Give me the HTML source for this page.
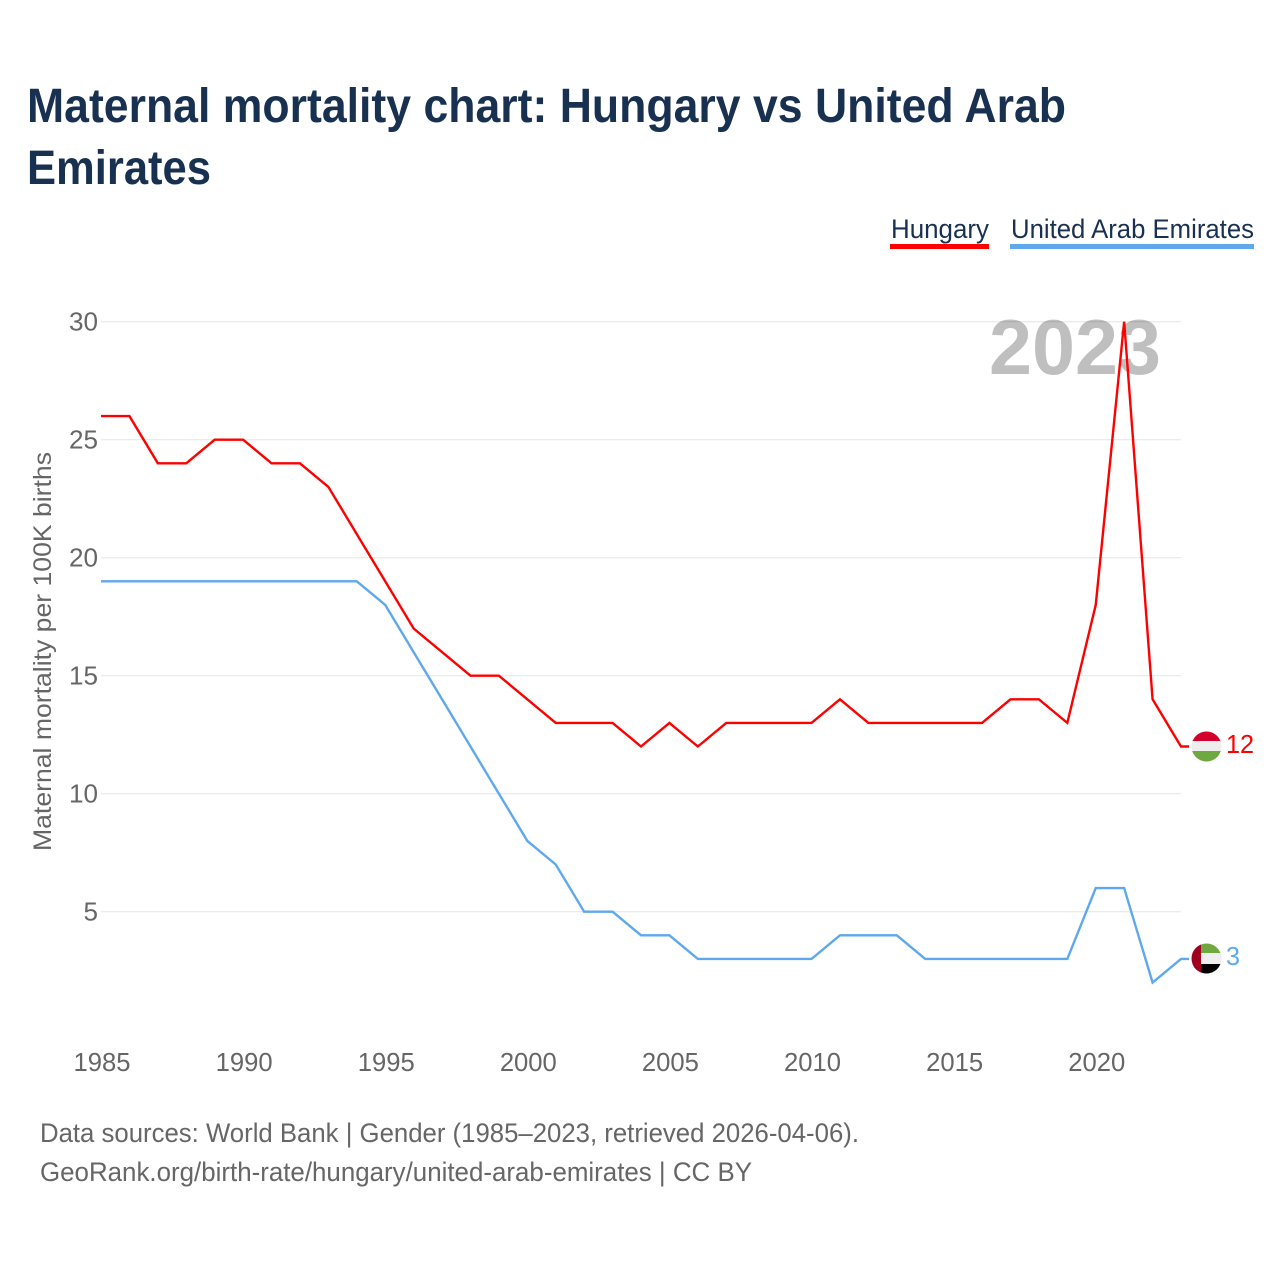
<!DOCTYPE html>
<html lang="en">
<head>
<meta charset="utf-8">
<title>Maternal mortality chart: Hungary vs United Arab Emirates</title>
<style>
html,body{margin:0;padding:0;background:#fff;width:1280px;height:1280px;overflow:hidden}
svg{display:block}
text{font-family:"Liberation Sans",sans-serif}
</style>
</head>
<body>
<svg id="chart" xmlns="http://www.w3.org/2000/svg" width="1280" height="1280" viewBox="0 0 1280 1280">
  <defs>
    <clipPath id="clip-hu"><circle cx="1206.5" cy="746.5" r="15"></circle></clipPath>
    <clipPath id="clip-ae"><circle cx="1206.5" cy="958.5" r="15"></circle></clipPath>
  </defs>
  <text x="27" y="122" font-size="48" font-weight="700" fill="#193150" textLength="1039" lengthAdjust="spacingAndGlyphs">Maternal mortality chart: Hungary vs United Arab</text>
  <text x="27" y="184" font-size="48" font-weight="700" fill="#193150" textLength="184" lengthAdjust="spacingAndGlyphs">Emirates</text>

  <g>
    <text x="891" y="238" font-size="27" fill="#193150" textLength="98" lengthAdjust="spacingAndGlyphs">Hungary</text>
    <rect x="890" y="244" width="99" height="5" fill="#ff0000"></rect>
  </g>
  <g>
    <text x="1011" y="238" font-size="27" fill="#193150" textLength="243" lengthAdjust="spacingAndGlyphs">United Arab Emirates</text>
    <rect x="1010" y="244" width="244" height="5" fill="#5fa8ee"></rect>
  </g>

  <g id="grid"></g>
  <text x="989" y="374" font-size="78" font-weight="700" fill="#000" fill-opacity="0.25" textLength="172" lengthAdjust="spacingAndGlyphs">2023</text>
  <g id="yticks"></g>
  <g id="xticks"></g>
  <text transform="translate(51,851) rotate(-90)" x="0" y="0" font-size="25" fill="#666" textLength="399" lengthAdjust="spacingAndGlyphs">Maternal mortality per 100K births</text>
  <g id="series"></g>

  <g clip-path="url(#clip-hu)">
    <rect x="1190" y="731" width="33" height="11" fill="#d2002a"></rect>
    <rect x="1190" y="741" width="33" height="11" fill="#eeeeee"></rect>
    <rect x="1190" y="751" width="33" height="11" fill="#6fa840"></rect>
  </g>
  <g clip-path="url(#clip-ae)">
    <rect x="1190" y="943" width="33" height="11" fill="#6fa840"></rect>
    <rect x="1190" y="953" width="33" height="11" fill="#eeeeee"></rect>
    <rect x="1190" y="964" width="33" height="11" fill="#000000"></rect>
    <rect x="1190" y="943" width="11" height="32" fill="#a0001f"></rect>
  </g>
  <text id="end-hu" x="1226" y="753" font-size="26" fill="#ff0000" textLength="28" lengthAdjust="spacingAndGlyphs"></text>
  <text id="end-ae" x="1226" y="965" font-size="26" fill="#5fa8ee" textLength="14" lengthAdjust="spacingAndGlyphs"></text>

  <text x="40" y="1142" font-size="27" fill="#666" textLength="819" lengthAdjust="spacingAndGlyphs">Data sources: World Bank | Gender (1985–2023, retrieved 2026-04-06).</text>
  <text x="40" y="1181" font-size="27" fill="#666" textLength="712" lengthAdjust="spacingAndGlyphs">GeoRank.org/birth-rate/hungary/united-arab-emirates | CC BY</text>
</svg>
<script>
const years = [1985,1986,1987,1988,1989,1990,1991,1992,1993,1994,1995,1996,1997,1998,1999,2000,2001,2002,2003,2004,2005,2006,2007,2008,2009,2010,2011,2012,2013,2014,2015,2016,2017,2018,2019,2020,2021,2022,2023];
const hungaryValues = [26,26,24,24,25,25,24,24,23,21,19,17,16,15,15,14,13,13,13,12,13,12,13,13,13,13,14,13,13,13,13,13,14,14,13,18,30,14,12];
const uaeValues = [19,19,19,19,19,19,19,19,19,19,18,16,14,12,10,8,7,5,5,4,4,3,3,3,3,3,4,4,4,3,3,3,3,3,3,6,6,2,3];
const yTickValues = [5,10,15,20,25,30];
const xTickValues = [1985,1990,1995,2000,2005,2010,2015,2020];

const NS = 'http://www.w3.org/2000/svg';
function xScale(year){ return 101 + (year - 1985) * (1080 / 38); }
function yScale(v){ return 1029.7 - v * (708 / 30); }

const gridG = document.getElementById('grid');
const yG = document.getElementById('yticks');
const xG = document.getElementById('xticks');
const seriesG = document.getElementById('series');

yTickValues.forEach(function(v){
  const line = document.createElementNS(NS, 'line');
  
  
  line.setAttribute('x1', 101);
  line.setAttribute('x2', 1181);
  line.setAttribute('y1', yScale(v));
  line.setAttribute('y2', yScale(v));
  line.setAttribute('stroke', '#ebebeb');
  line.setAttribute('stroke-width', '1.3');
  gridG.appendChild(line);

  const t = document.createElementNS(NS, 'text');
  
  
  const s = String(v);
  const w = s.length * 14.5;
  t.setAttribute('x', 98 - w);
  t.setAttribute('y', yScale(v) + 9);
  t.setAttribute('font-size', '26');
  t.setAttribute('fill', '#666');
  t.setAttribute('textLength', w);
  t.setAttribute('lengthAdjust', 'spacingAndGlyphs');
  t.textContent = s;
  yG.appendChild(t);
});

xTickValues.forEach(function(y){
  const t = document.createElementNS(NS, 'text');
  
  
  t.setAttribute('x', xScale(y) - 27.5);
  t.setAttribute('y', 1071);
  t.setAttribute('font-size', '26');
  t.setAttribute('fill', '#666');
  t.setAttribute('textLength', 57);
  t.setAttribute('lengthAdjust', 'spacingAndGlyphs');
  t.textContent = String(y);
  xG.appendChild(t);
});

function drawSeries(values, color, name){
  const pts = values.map(function(v, i){ return xScale(years[i]).toFixed(2) + ',' + yScale(v).toFixed(2); });
  const last = values[values.length - 1];
  pts.push((xScale(years[years.length - 1]) + 8).toFixed(2) + ',' + yScale(last).toFixed(2));
  const p = document.createElementNS(NS, 'polyline');
  
  
  p.setAttribute('points', pts.join(' '));
  p.setAttribute('fill', 'none');
  p.setAttribute('stroke', color);
  p.setAttribute('stroke-width', '2.4');
  p.setAttribute('stroke-linejoin', 'miter');
  seriesG.appendChild(p);
}
drawSeries(uaeValues, '#5fa8ee', 'line-united-arab-emirates');
drawSeries(hungaryValues, '#ff0000', 'line-hungary');

document.getElementById('end-hu').textContent = String(hungaryValues[hungaryValues.length - 1]);
document.getElementById('end-ae').textContent = String(uaeValues[uaeValues.length - 1]);
</script>
</body>
</html>
